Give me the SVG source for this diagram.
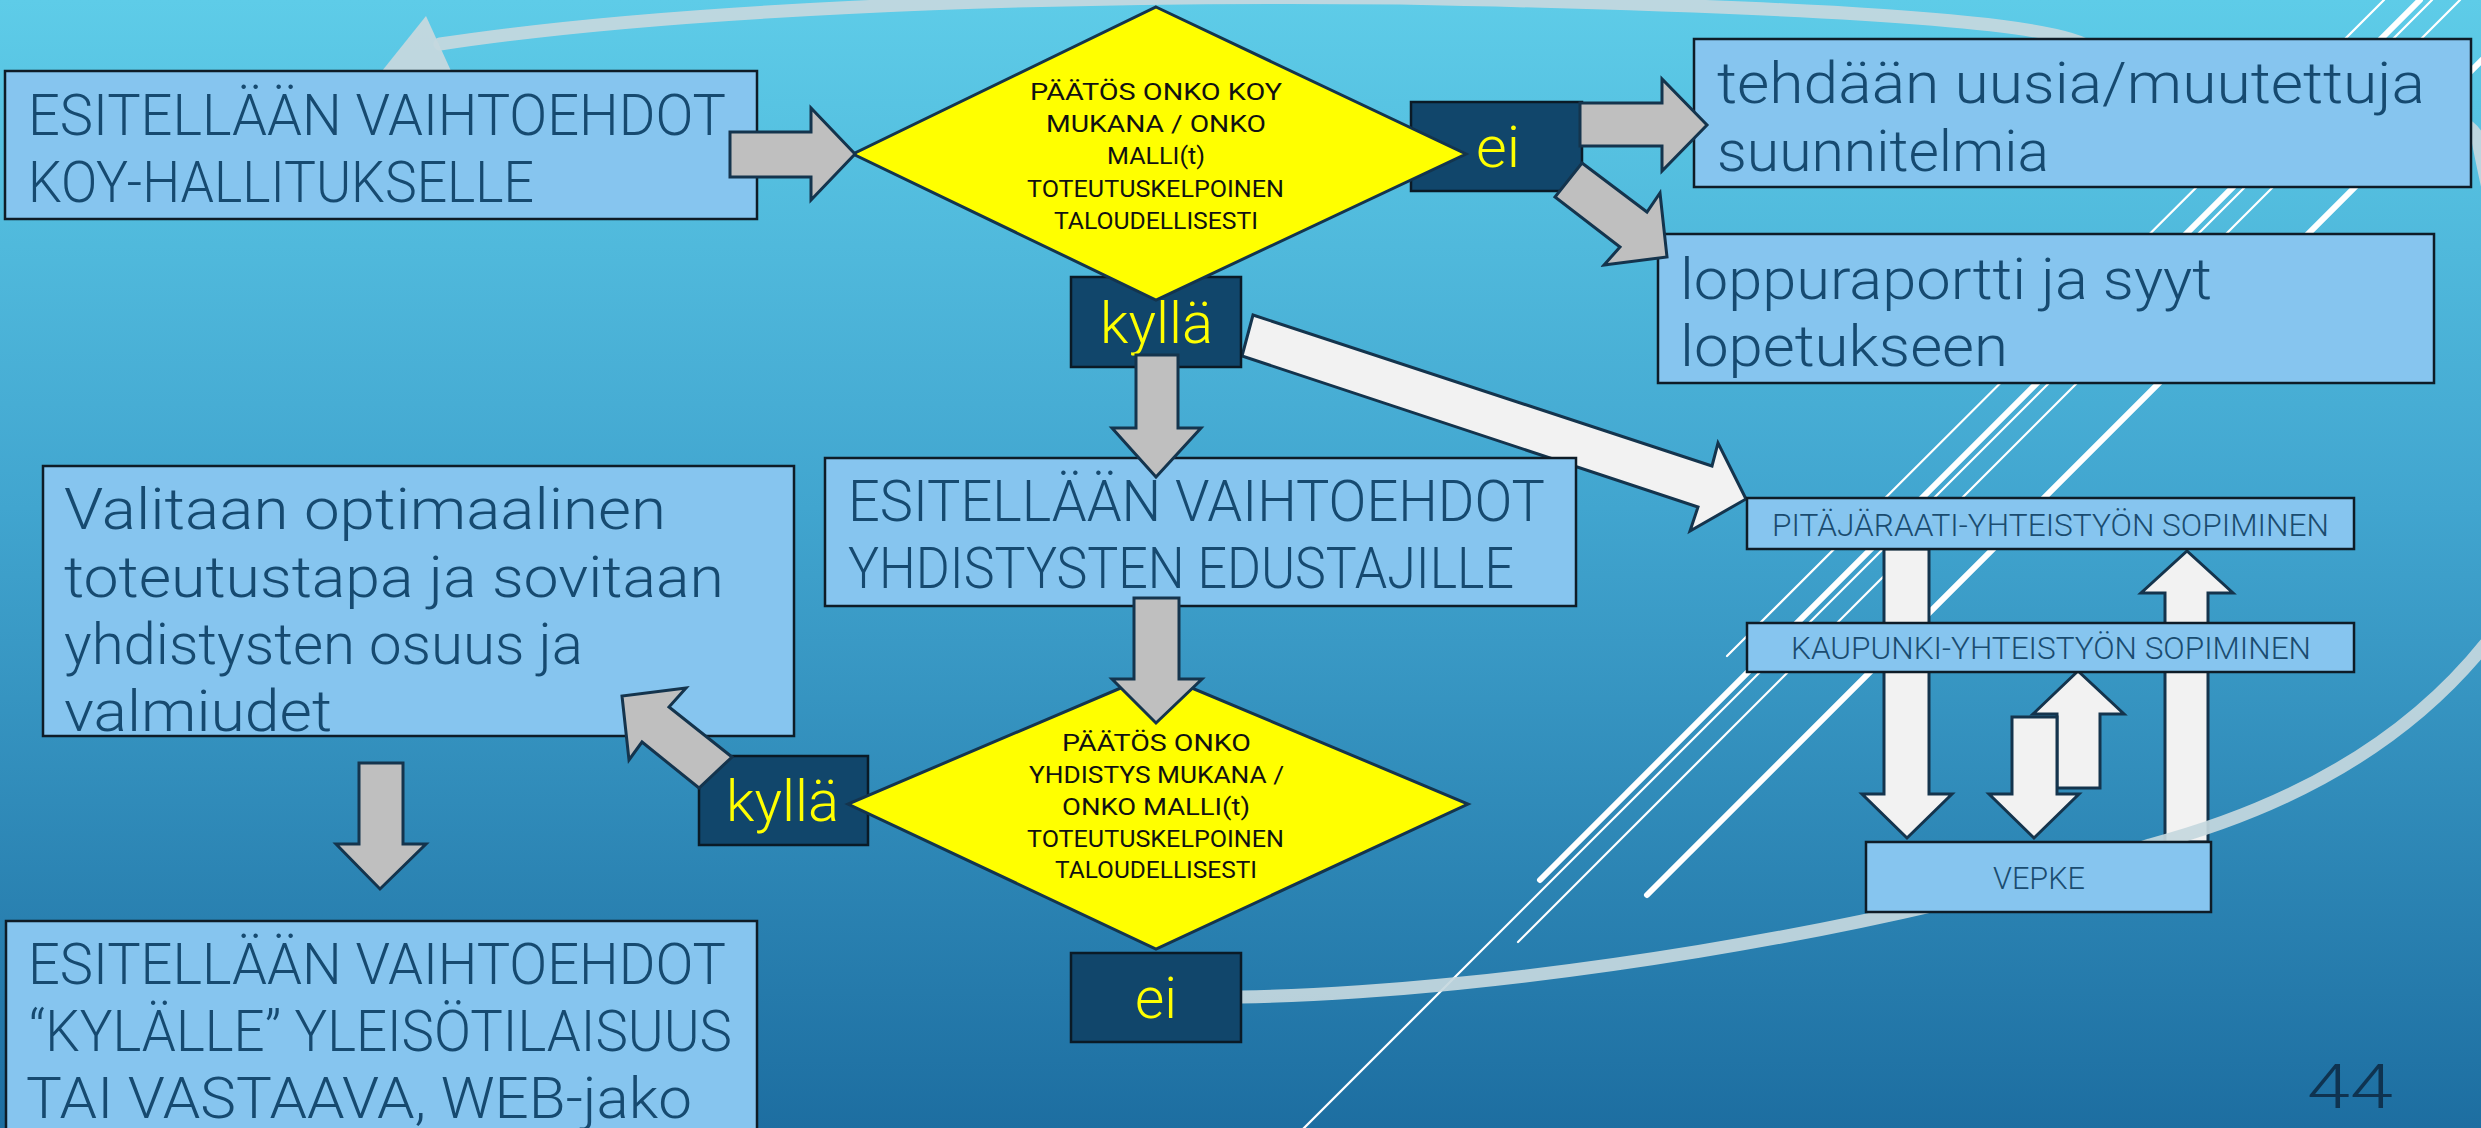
<svg xmlns="http://www.w3.org/2000/svg" width="2481" height="1128" viewBox="0 0 2481 1128">
<defs>
<linearGradient id="bg" x1="0" y1="0" x2="0" y2="1">
<stop offset="0" stop-color="#5ecce8"/>
<stop offset="0.45" stop-color="#41a5cf"/>
<stop offset="1" stop-color="#1d6ea1"/>
</linearGradient>
<style>
.lt{fill:#86c5ef;stroke:#0e1c27;stroke-width:2.5}
.dk{fill:#11466b;stroke:#0a1a26;stroke-width:2.5}
.dia{fill:#ffff00;stroke:#14344d;stroke-width:3;stroke-linejoin:miter}
.ga{fill:#bfbfbf;stroke:#14344d;stroke-width:3;stroke-linejoin:miter}
.wa{fill:#f2f2f2;stroke:#14344d;stroke-width:3;stroke-linejoin:miter}
.bt{font-family:Roboto,"Liberation Sans",Arial,sans-serif;font-weight:300;font-size:57px;fill:#164a70}
.st{font-family:Roboto,"Liberation Sans",Arial,sans-serif;font-weight:300;font-size:31px;fill:#1a4c70}
.dt{font-family:Roboto,"Liberation Sans",Arial,sans-serif;font-weight:400;font-size:23px;fill:#111111}
.yt{font-family:Roboto,"Liberation Sans",Arial,sans-serif;font-weight:300;font-size:58px;fill:#ffff00}
.thin{stroke:#ffffff;stroke-width:2.2;stroke-linecap:round}
.thick{stroke:#ffffff;stroke-width:6;stroke-linecap:round}
.band{fill:none;stroke:#c5d8de;stroke-width:13;stroke-linecap:round;opacity:0.92}
</style>
</defs>
<rect x="0" y="0" width="2481" height="1128" fill="url(#bg)"/>

<g id="decoration">
<line class="thin" x1="1727" y1="656" x2="2384" y2="0"/>
<line class="thick" x1="1540" y1="880" x2="2420" y2="0"/>
<line class="thin" x1="1300" y1="1132" x2="2432" y2="0"/>
<line class="thin" x1="1518" y1="942" x2="2460" y2="0"/>
<line class="thick" x1="1647" y1="895" x2="2542" y2="0"/>
</g>

<g id="connectors-back">
<polygon class="wa" points="1253,315 1712,466 1718,443 1746,499 1690,531 1698,507 1242,356"/>
<polygon class="wa" points="1884,549 1929,549 1929,794 1952,794 1907,838 1862,794 1884,794"/>
<polygon class="wa" points="2165,842 2165,593 2141,593 2187,551 2233,593 2208,593 2208,842"/>
<polygon class="wa" points="2057,788 2057,714 2033,714 2078,671 2124,714 2100,714 2100,788"/>
<polygon class="wa" points="2012,717 2057,717 2057,794 2079,794 2034,838 1989,794 2012,794"/>
<path class="band" d="M 1241 997 C 1500 993, 1900 930, 2150 845 C 2300 805, 2420 735, 2500 625 C 2580 520, 2500 260, 2478 140 C 2465 80, 2150 110, 2090 48 C 2060 20, 1800 6, 1400 -2 C 1000 -6, 650 12, 440 44"/>
<polygon points="426,16 382,71 451,71" fill="#c5d8de" opacity="0.95"/>
</g>

<g id="node-koy-box">
<rect class="lt" x="5" y="71" width="752" height="148"/>
<text class="bt" x="28" y="135" textLength="698" lengthAdjust="spacingAndGlyphs">ESITELLÄÄN VAIHTOEHDOT</text>
<text class="bt" x="28" y="202" textLength="506" lengthAdjust="spacingAndGlyphs">KOY-HALLITUKSELLE</text>
</g>
<g id="node-tehdaan">
<rect class="lt" x="1694" y="39" width="777" height="148"/>
<text class="bt" x="1717" y="103" textLength="708" lengthAdjust="spacingAndGlyphs">tehdään uusia/muutettuja</text>
<text class="bt" x="1717" y="171" textLength="332" lengthAdjust="spacingAndGlyphs">suunnitelmia</text>
</g>
<g id="node-loppuraportti">
<rect class="lt" x="1658" y="234" width="776" height="149"/>
<text class="bt" x="1680" y="299" textLength="532" lengthAdjust="spacingAndGlyphs">loppuraportti ja syyt</text>
<text class="bt" x="1680" y="366" textLength="328" lengthAdjust="spacingAndGlyphs">lopetukseen</text>
</g>
<g id="node-yhdistykset-box">
<rect class="lt" x="825" y="458" width="751" height="148"/>
<text class="bt" x="848" y="521" textLength="697" lengthAdjust="spacingAndGlyphs">ESITELLÄÄN VAIHTOEHDOT</text>
<text class="bt" x="848" y="588" textLength="666" lengthAdjust="spacingAndGlyphs">YHDISTYSTEN EDUSTAJILLE</text>
</g>
<g id="node-valitaan">
<rect class="lt" x="43" y="466" width="751" height="270"/>
<text class="bt" x="64" y="529" textLength="602" lengthAdjust="spacingAndGlyphs">Valitaan optimaalinen</text>
<text class="bt" x="64" y="597" textLength="660" lengthAdjust="spacingAndGlyphs">toteutustapa ja sovitaan</text>
<text class="bt" x="64" y="664" textLength="519" lengthAdjust="spacingAndGlyphs">yhdistysten osuus ja</text>
<text class="bt" x="64" y="731" textLength="268" lengthAdjust="spacingAndGlyphs">valmiudet</text>
</g>
<g id="node-kylalle">
<rect class="lt" x="6" y="921" width="751" height="220"/>
<text class="bt" x="28" y="984" textLength="698" lengthAdjust="spacingAndGlyphs">ESITELLÄÄN VAIHTOEHDOT</text>
<text class="bt" x="29" y="1051" textLength="703" lengthAdjust="spacingAndGlyphs">“KYLÄLLE” YLEISÖTILAISUUS</text>
<text class="bt" x="26" y="1118" textLength="666" lengthAdjust="spacingAndGlyphs">TAI VASTAAVA, WEB-jako</text>
</g>
<g id="node-pitajaraati">
<rect class="lt" x="1747" y="498" width="607" height="51"/>
<text class="st" x="1772" y="536" textLength="557" lengthAdjust="spacingAndGlyphs">PITÄJÄRAATI-YHTEISTYÖN SOPIMINEN</text>
</g>
<g id="node-kaupunki">
<rect class="lt" x="1747" y="623" width="607" height="49"/>
<text class="st" x="1791" y="659" textLength="520" lengthAdjust="spacingAndGlyphs">KAUPUNKI-YHTEISTYÖN SOPIMINEN</text>
</g>
<g id="node-vepke">
<rect class="lt" x="1866" y="842" width="345" height="70"/>
<text class="st" x="1993" y="889" textLength="92" lengthAdjust="spacingAndGlyphs">VEPKE</text>
</g>
<g id="node-ei-1">
<rect class="dk" x="1411" y="102" width="171" height="89"/>
<text class="yt" x="1476" y="167" textLength="44" lengthAdjust="spacingAndGlyphs">ei</text>
</g>
<g id="node-kylla-1">
<rect class="dk" x="1071" y="277" width="170" height="90"/>
<text class="yt" x="1100" y="343" textLength="113" lengthAdjust="spacingAndGlyphs">kyllä</text>
</g>
<g id="node-kylla-2">
<rect class="dk" x="699" y="756" width="169" height="89"/>
<text class="yt" x="726" y="821" textLength="113" lengthAdjust="spacingAndGlyphs">kyllä</text>
</g>
<g id="node-ei-2">
<rect class="dk" x="1071" y="953" width="170" height="89"/>
<text class="yt" x="1135" y="1018" textLength="42" lengthAdjust="spacingAndGlyphs">ei</text>
</g>
<g id="node-paatos-koy">
<polygon class="dia" points="1156,7 1466,154 1156,300 853,154"/>
<text class="dt" x="1030" y="100" textLength="252" lengthAdjust="spacingAndGlyphs">PÄÄTÖS ONKO KOY</text>
<text class="dt" x="1046" y="132" textLength="220" lengthAdjust="spacingAndGlyphs">MUKANA / ONKO</text>
<text class="dt" x="1107" y="164" textLength="98" lengthAdjust="spacingAndGlyphs">MALLI(t)</text>
<text class="dt" x="1027" y="197" textLength="257" lengthAdjust="spacingAndGlyphs">TOTEUTUSKELPOINEN</text>
<text class="dt" x="1054" y="229" textLength="204" lengthAdjust="spacingAndGlyphs">TALOUDELLISESTI</text>
</g>
<g id="node-paatos-yhdistys">
<polygon class="dia" points="1156,673 1468,804 1156,949 848,804"/>
<text class="dt" x="1062" y="751" textLength="189" lengthAdjust="spacingAndGlyphs">PÄÄTÖS ONKO</text>
<text class="dt" x="1029" y="783" textLength="255" lengthAdjust="spacingAndGlyphs">YHDISTYS MUKANA /</text>
<text class="dt" x="1062" y="815" textLength="188" lengthAdjust="spacingAndGlyphs">ONKO MALLI(t)</text>
<text class="dt" x="1027" y="847" textLength="257" lengthAdjust="spacingAndGlyphs">TOTEUTUSKELPOINEN</text>
<text class="dt" x="1055" y="878" textLength="202" lengthAdjust="spacingAndGlyphs">TALOUDELLISESTI</text>
</g>

<g id="connectors">
<polygon class="ga" points="730,132 811,132 811,108 855,154 811,200 811,177 730,177"/>
<polygon class="ga" points="1580,103 1662,103 1662,79 1707,125 1662,171 1662,146 1580,146"/>
<polygon class="ga" points="1582,163 1647,212 1660,193 1667,257 1604,265 1620,247 1555,197"/>
<polygon class="ga" points="1136,355 1178,355 1178,428 1201,428 1156,477 1112,428 1136,428"/>
<polygon class="ga" points="1134,598 1179,598 1179,679 1202,679 1156,723 1112,679 1134,679"/>
<polygon class="ga" points="732,757 669,707 686,688 622,696 629,760 642,742 699,788"/>
<polygon class="ga" points="359,763 403,763 403,844 426,844 380,889 336,844 359,844"/>
</g>

<text x="2307" y="1108" font-family="Roboto, Liberation Sans, Arial, sans-serif" font-weight="300" font-size="62" fill="#0f3350" textLength="86" lengthAdjust="spacingAndGlyphs">44</text>
</svg>
